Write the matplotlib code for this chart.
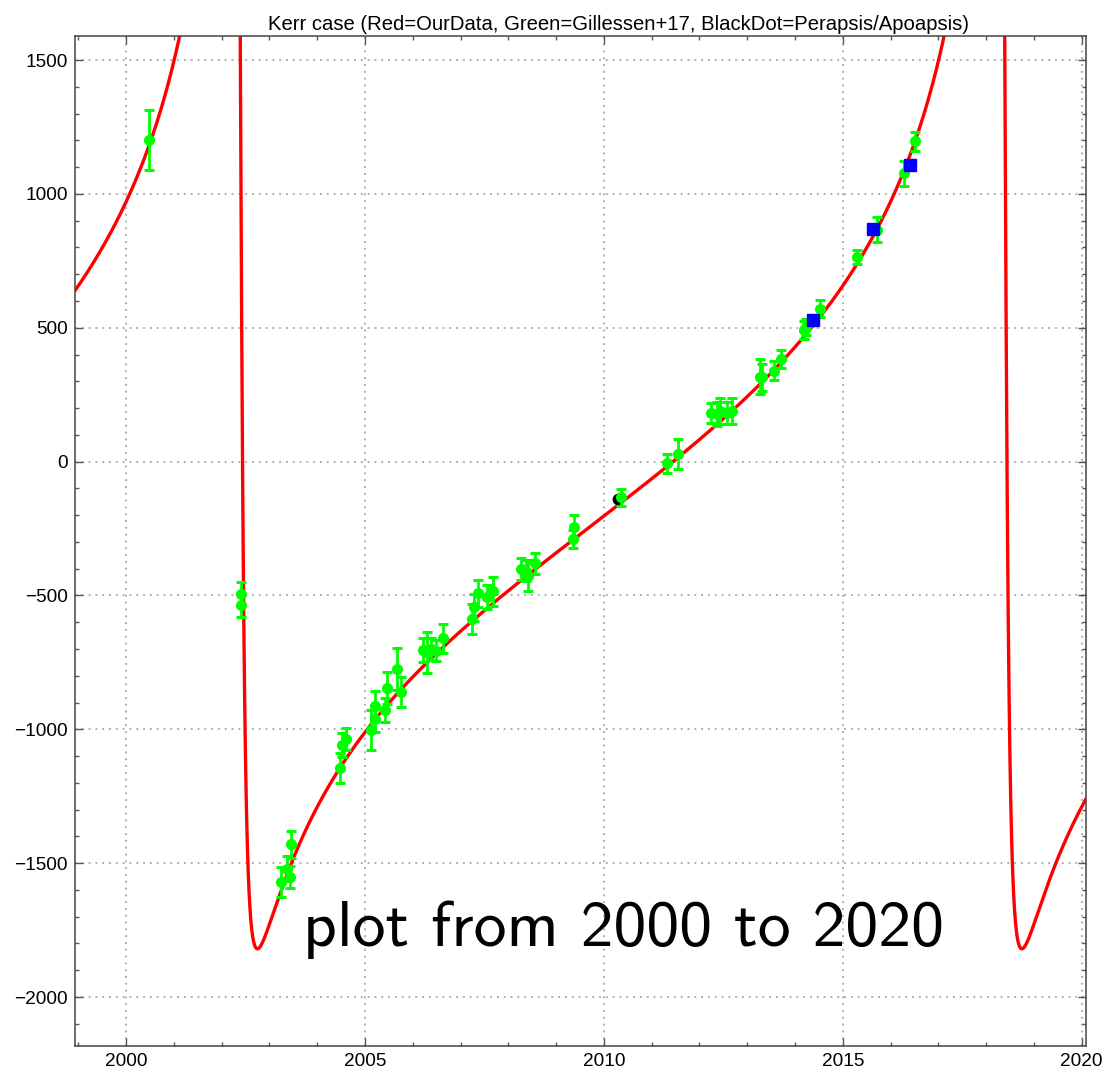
import numpy as np
import matplotlib
matplotlib.use("Agg")
import matplotlib.pyplot as plt
from matplotlib.ticker import MultipleLocator, FixedLocator

# ---- Green points (Gillessen+17): epoch [yr], radial velocity [km/s], 1-sigma error
green_year = [2000.48, 2002.41, 2002.41, 2003.25, 2003.36, 2003.44, 2003.45,
              2004.47, 2004.51, 2004.60, 2005.13, 2005.20, 2005.21, 2005.42,
              2005.47, 2005.67, 2005.76, 2006.21, 2006.29, 2006.39, 2006.48,
              2006.63, 2007.24, 2007.29, 2007.36, 2007.55, 2007.67, 2008.27,
              2008.37, 2008.42, 2008.56, 2009.35, 2009.38, 2010.35, 2011.33,
              2011.55, 2012.24, 2012.37, 2012.44, 2012.58, 2012.69, 2013.26,
              2013.31, 2013.57, 2013.70, 2014.18, 2014.23, 2014.53, 2015.30,
              2015.72, 2016.29, 2016.52]
green_rv = [1200, -494, -534, -1571, -1520, -1552, -1429,
            -1144, -1060, -1036, -1001, -961, -913, -927,
            -847, -774, -861, -703, -712, -700, -706,
            -660, -587, -544, -492, -507, -484, -401,
            -407, -426, -380, -289, -243, -133, -6,
            29, 182, 178, 188, 182, 188, 317,
            315, 340, 383, 492, 504, 572, 763,
            866, 1077, 1196]
green_err = [112, 45, 45, 55, 48, 40, 50,
             55, 45, 40, 75, 50, 55, 45,
             60, 78, 57, 45, 77, 40, 40,
             54, 56, 50, 50, 45, 54, 40,
             40, 59, 40, 35, 42, 32, 35,
             56, 37, 45, 49, 40, 48, 65,
             50, 35, 35, 35, 30, 30, 26,
             47, 47, 35]

# ---- Blue squares and black dot
blue_year = [2014.38, 2015.63, 2016.40]
blue_rv = [530, 870, 1108]
black_year = [2010.30]
black_rv = [-139]

# ---- Orbital elements of the red model curve
period = 16.0        # yr
t_peri = 2002.365    # yr
ecc = 0.884
omega_deg = 63.8
k_amp = 2985.0       # km/s
gamma = 0.0          # km/s

x_ticks = [2000, 2005, 2010, 2015, 2020]
y_ticks = [-2000, -1500, -1000, -500, 0, 500, 1000, 1500]
title_text = "Kerr case (Red=OurData, Green=Gillessen+17, BlackDot=Perapsis/Apoapsis)"
note_text = "plot from 2000 to 2020"


def radial_velocity(t):
    M = 2 * np.pi * (t - t_peri) / period
    M = np.mod(M + np.pi, 2 * np.pi) - np.pi
    E = M + 0.85 * ecc * np.sign(np.sin(M))
    for _ in range(60):
        E = E - (E - ecc * np.sin(E) - M) / (1 - ecc * np.cos(E))
    nu = 2 * np.arctan2(np.sqrt(1 + ecc) * np.sin(E / 2),
                        np.sqrt(1 - ecc) * np.cos(E / 2))
    w = np.radians(omega_deg)
    return gamma + k_amp * (np.cos(w + nu) + ecc * np.cos(w))


W, H = 1105, 1070
fig = plt.figure(figsize=(W / 100, H / 100), dpi=100)
ax = fig.add_axes([75 / W, 24 / H, (1086 - 75) / W, (1046 - 36) / H])

t = np.linspace(1998.8, 2020.3, 40000)
ax.plot(t, radial_velocity(t), color="#ff0000", lw=2.4, zorder=2)

ax.plot(black_year, black_rv, "o", color="black", ms=7.5, zorder=2.5)
ax.errorbar(green_year, green_rv, yerr=green_err, fmt="o", color="#00ff00",
            ms=7, elinewidth=2, capsize=3.8, capthick=2.2, zorder=3)
ax.plot(blue_year, blue_rv, "s", color="#0000ff", ms=8, zorder=4)

ax.set_xlim(1998.93, 2020.09)
ax.set_ylim(-2183, 1590)

ax.xaxis.set_major_locator(FixedLocator(x_ticks))
ax.yaxis.set_major_locator(FixedLocator(y_ticks))
ax.xaxis.set_minor_locator(MultipleLocator(1))
ax.yaxis.set_minor_locator(MultipleLocator(100))
ax.set_xticklabels([str(v) for v in x_ticks])
ax.set_yticklabels([str(v).replace("-", "\u2212") for v in y_ticks])

ax.tick_params(which="both", direction="in", top=True, right=True,
               color="#555555", width=1, labelsize=13.7, labelcolor="black")
ax.tick_params(which="major", length=6)
ax.tick_params(which="minor", length=3)
ax.tick_params(axis="x", pad=5)
ax.tick_params(axis="y", pad=5)
for lab in ax.get_xticklabels() + ax.get_yticklabels():
    lab.set_family("Liberation Sans")

for sp in ax.spines.values():
    sp.set_color("#444444")
    sp.set_linewidth(1.1)

ax.grid(True, which="major", color="#b0b0b0", linestyle=(0, (1, 2.5)), lw=1.4)
ax.set_axisbelow(True)

ax.set_title(title_text, family="Liberation Sans", fontsize=14.6, pad=4,
             x=(618 - 75) / (1086 - 75))

fig.text(303 / W, 1 - 946 / H, note_text, family="cmss10", fontsize=47.3,
         ha="left", va="baseline", color="black")

fig.savefig("out.png", dpi=100)
